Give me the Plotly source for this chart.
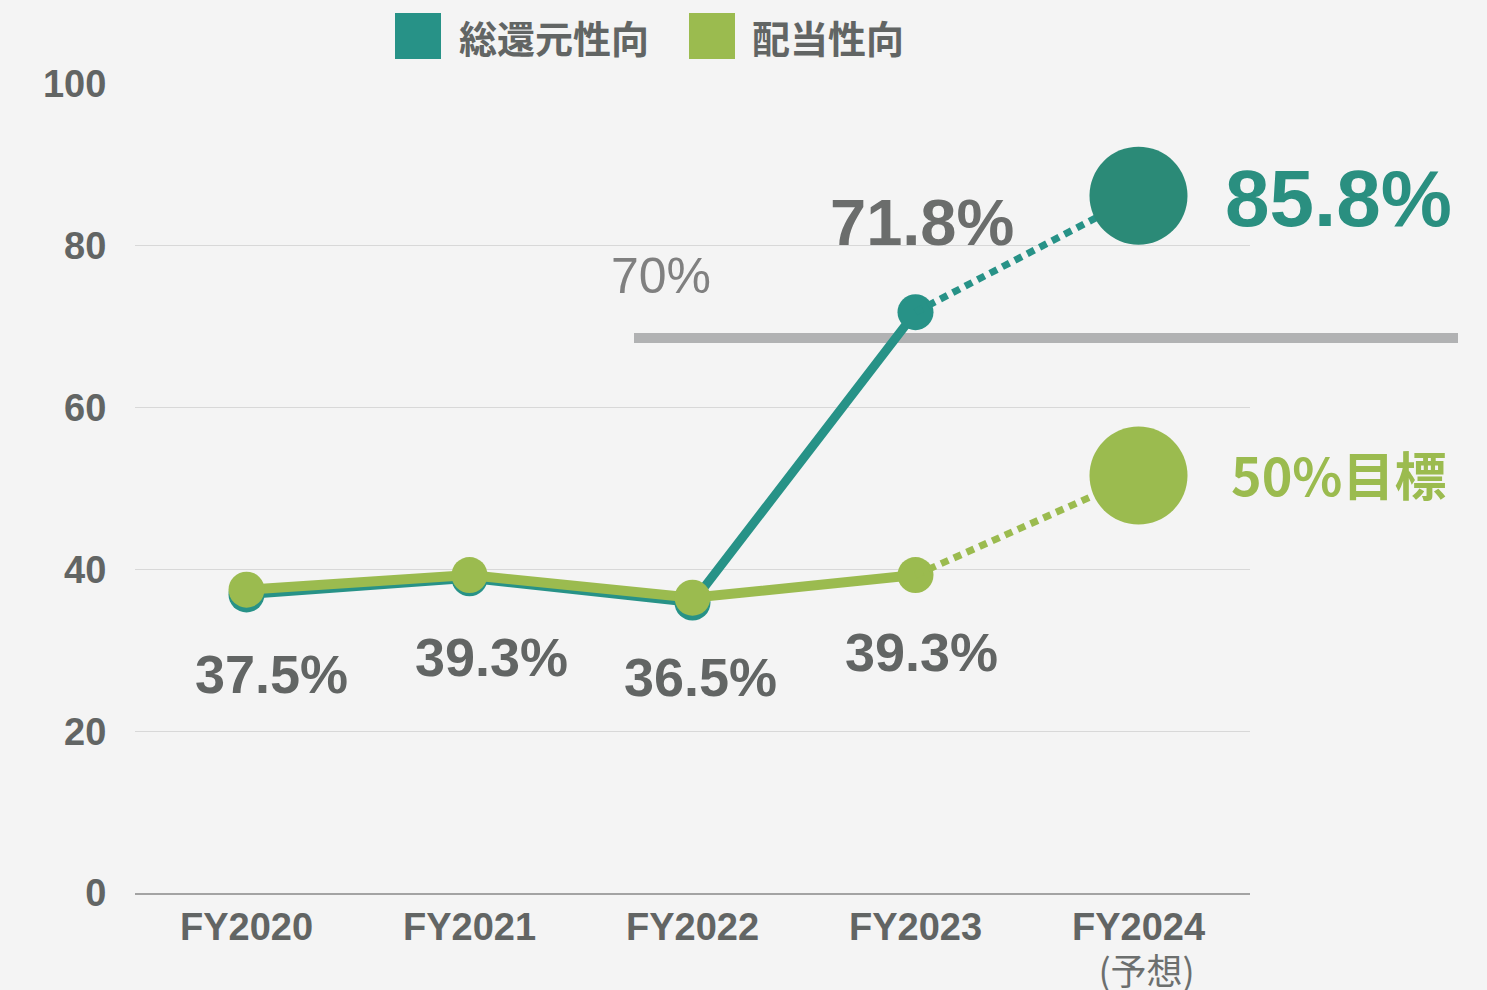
import plotly.graph_objects as go

# ---- data ----
categories = ["FY2020", "FY2021", "FY2022", "FY2023", "FY2024"]
tick_labels = ["<span style='font-size:38px'><b>FY2020</b></span>",
               "<span style='font-size:38px'><b>FY2021</b></span>",
               "<span style='font-size:38px'><b>FY2022</b></span>",
               "<span style='font-size:38px'><b>FY2023</b></span>",
               "<span style='font-size:38px'><b>FY2024</b></span><br><span style='font-size:36px;font-family:Noto Sans CJK JP;fill:#6C6F6E'>\u00a0\u00a0(予想)</span>"]
total_return = [36.9, 38.9, 35.9, 71.8, 86.2]      # 総還元性向
payout = [37.5, 39.3, 36.5, 39.3, 51.6]            # 配当性向
payout_labels = ["37.5%", "39.3%", "36.5%", "39.3%"]
total_label_fy23 = "71.8%"
total_label_fy24 = "85.8%"
payout_label_fy24 = "50%目標"
threshold_value = 68.6
threshold_label = "70%"
y_ticks = [0, 20, 40, 60, 80, 100]
series_names = ["総還元性向", "配当性向"]

TEAL = "#279287"
TEAL_DARK = "#2B8A77"
GREEN = "#9BBB4F"
GRAY_TXT = "#626564"
BG = "#F4F4F4"
FONT = "Liberation Sans, Arial, Noto Sans CJK JP"
CJK = "Noto Sans CJK JP, Liberation Sans"

YMIN, YMAX = 0, 100
L, R, T, B = 135, 237, 84, 97
W, H = 1487, 990
plot_w = W - L - R
plot_h = H - T - B

def px_to_paper_x(px):
    return (px - L) / plot_w

def px_to_paper_y(py):
    return (H - B - py) / plot_h

fig = go.Figure()

# teal solid (FY2020-FY2023)
fig.add_trace(go.Scatter(x=categories[:4], y=total_return[:4], mode="lines+markers",
                         line=dict(color=TEAL, width=9), marker=dict(size=36, color=TEAL),
                         showlegend=False, hoverinfo="skip"))
# green solid
fig.add_trace(go.Scatter(x=categories[:4], y=payout[:4], mode="lines+markers",
                         line=dict(color=GREEN, width=10), marker=dict(size=36, color=GREEN),
                         showlegend=False, hoverinfo="skip"))
# dotted forecasts
fig.add_trace(go.Scatter(x=categories[3:], y=total_return[3:], mode="lines",
                         line=dict(color=TEAL, width=7, dash="8px,6px"),
                         showlegend=False, hoverinfo="skip"))
fig.add_trace(go.Scatter(x=categories[3:], y=payout[3:], mode="lines",
                         line=dict(color=GREEN, width=7, dash="8px,6px"),
                         showlegend=False, hoverinfo="skip"))
# big forecast circles
fig.add_trace(go.Scatter(x=[categories[4]], y=[total_return[4]], mode="markers",
                         marker=dict(size=98, color=TEAL_DARK), showlegend=False,
                         hoverinfo="skip", cliponaxis=False))
fig.add_trace(go.Scatter(x=[categories[4]], y=[payout[4]], mode="markers",
                         marker=dict(size=98, color=GREEN), showlegend=False,
                         hoverinfo="skip", cliponaxis=False))

# threshold bar
ty = (threshold_value - YMIN) / (YMAX - YMIN)
fig.add_shape(type="line", xref="paper", yref="paper",
              x0=px_to_paper_x(634), x1=px_to_paper_x(1458), y0=ty, y1=ty,
              line=dict(color="#B1B2B3", width=10), layer="below")

annotations = []
shifts = [(25, -84), (22, -82), (8, -79), (6, -77)]
for i, lab in enumerate(payout_labels):
    annotations.append(dict(x=categories[i], y=payout[i], xref="x", yref="y",
                            text=f"<b>{lab}</b>", showarrow=False,
                            xshift=shifts[i][0], yshift=shifts[i][1],
                            font=dict(size=54, color=GRAY_TXT, family=FONT)))
annotations.append(dict(x=categories[3], y=total_return[3], xref="x", yref="y",
                        text=f"<b>{total_label_fy23}</b>", showarrow=False,
                        xshift=6, yshift=90,
                        font=dict(size=65, color="#6B6D6C", family=FONT)))
annotations.append(dict(x=categories[4], y=total_return[4], xref="x", yref="y",
                        text=f"<b>{total_label_fy24}</b>", showarrow=False,
                        xshift=200, yshift=-3,
                        font=dict(size=80, color="#2A8F80", family=FONT)))
annotations.append(dict(x=categories[4], y=payout[4], xref="x", yref="y",
                        text=f"<b>{payout_label_fy24}</b>", showarrow=False,
                        xshift=200, yshift=2,
                        font=dict(size=52, color=GREEN, family=CJK)))
annotations.append(dict(x=px_to_paper_x(661), y=ty, xref="paper", yref="paper",
                        xanchor="center", yanchor="middle",
                        text=threshold_label, showarrow=False, yshift=62,
                        font=dict(size=50, color="#808080", family=FONT)))

# legend (manual)
for (x0, x1, col, tx, name) in [(395, 441, TEAL, 457, series_names[0]),
                                (689, 735, GREEN, 750, series_names[1])]:
    fig.add_shape(type="rect", xref="paper", yref="paper",
                  x0=px_to_paper_x(x0), x1=px_to_paper_x(x1),
                  y0=px_to_paper_y(59), y1=px_to_paper_y(13),
                  fillcolor=col, line=dict(width=0))
    annotations.append(dict(x=px_to_paper_x(tx), y=px_to_paper_y(37), xref="paper", yref="paper",
                            xanchor="left", yanchor="middle", text=f"<b>{name}</b>",
                            showarrow=False,
                            font=dict(size=38, color=GRAY_TXT, family=CJK)))

fig.update_layout(
    width=W, height=H,
    margin=dict(l=L, r=R, t=T, b=B, pad=0, autoexpand=False),
    paper_bgcolor=BG, plot_bgcolor=BG,
    annotations=annotations,
    showlegend=False,
    xaxis=dict(type="category", range=[-0.5, 4.5], tickvals=categories, ticktext=tick_labels,
               showgrid=False, showline=True, linecolor="#A3A3A3", linewidth=1.5,
               ticks="outside", ticklen=3, tickcolor="rgba(0,0,0,0)", automargin=False,
               tickfont=dict(size=35, color=GRAY_TXT, family=FONT), fixedrange=True),
    yaxis=dict(range=[YMIN, YMAX], tickvals=y_ticks, ticktext=[f"<b>{v}</b>" for v in y_ticks],
               showgrid=True, gridcolor="#D8D8D8", gridwidth=1, zeroline=False,
               ticks="outside", ticklen=20, tickcolor="rgba(0,0,0,0)", automargin=False,
               tickfont=dict(size=38, color=GRAY_TXT, family=FONT), fixedrange=True),
)

fig.write_html("out.html", config={"displayModeBar": False},
               post_script="document.body.style.margin='0';document.body.style.overflow='hidden';")
